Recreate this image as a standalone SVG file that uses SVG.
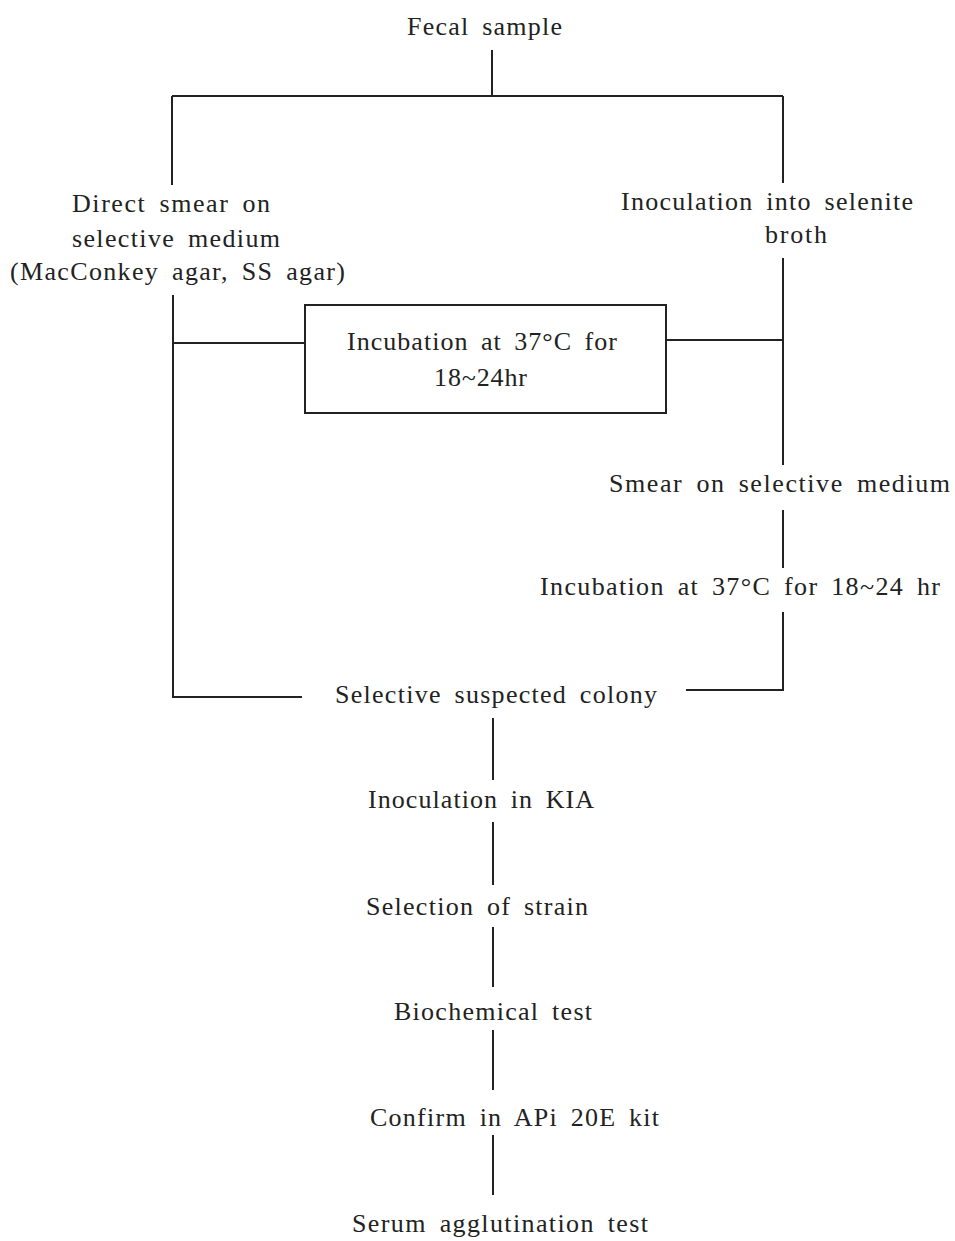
<svg xmlns="http://www.w3.org/2000/svg" width="955" height="1241" viewBox="0 0 955 1241">
<style>
.t{font-family:"Liberation Serif","Times New Roman",serif;font-size:26px;fill:#222;word-spacing:5px}
.l{stroke:#222;stroke-width:2;fill:none}
</style>
<rect width="955" height="1241" fill="#fff"/>
<g id="connectors">
<path class="l" d="M492 50V96M172 96H783M172 96V185M783 96V183"/>
<path class="l" d="M173 295V697H302M173 343H305"/>
<path class="l" d="M666 340H783M783 258V465M783 510V568M783 612V690H686"/>
<path class="l" d="M493 718V780M493 822V885M493 927V987M493 1030V1090M493 1135V1195"/>
</g>
<g id="n-fecal"><text class="t" x="407" y="35" textLength="155" lengthAdjust="spacing">Fecal sample</text></g>
<g id="n-direct">
<text class="t" x="72" y="212" textLength="198" lengthAdjust="spacing">Direct smear on</text>
<text class="t" x="72" y="247" textLength="208" lengthAdjust="spacing">selective medium</text>
<text class="t" x="10" y="280" textLength="335" lengthAdjust="spacing">(MacConkey agar, SS agar)</text>
</g>
<g id="n-inoc-selenite">
<text class="t" x="621" y="210" textLength="292" lengthAdjust="spacing">Inoculation into selenite</text>
<text class="t" x="765" y="243" textLength="62" lengthAdjust="spacing">broth</text>
</g>
<g id="n-incub-box">
<rect x="305" y="305" width="361" height="108" fill="none" stroke="#222" stroke-width="2"/>
<text class="t" x="347" y="350" textLength="270" lengthAdjust="spacing">Incubation at 37°C for</text>
<text class="t" x="434" y="386" textLength="93" lengthAdjust="spacing">18~24hr</text>
</g>
<g id="n-smear"><text class="t" x="609" y="492" textLength="341" lengthAdjust="spacing">Smear on selective medium</text></g>
<g id="n-incub2"><text class="t" x="540" y="595" textLength="400" lengthAdjust="spacing">Incubation at 37°C for 18~24 hr</text></g>
<g id="n-colony"><text class="t" x="335" y="703" textLength="322" lengthAdjust="spacing">Selective suspected colony</text></g>
<g id="n-kia"><text class="t" x="368" y="808" textLength="226" lengthAdjust="spacing">Inoculation in KIA</text></g>
<g id="n-strain"><text class="t" x="366" y="915" textLength="222" lengthAdjust="spacing">Selection of strain</text></g>
<g id="n-biochem"><text class="t" x="394" y="1020" textLength="198" lengthAdjust="spacing">Biochemical test</text></g>
<g id="n-api"><text class="t" x="370" y="1126" textLength="289" lengthAdjust="spacing">Confirm in APi 20E kit</text></g>
<g id="n-serum"><text class="t" x="352" y="1232" textLength="296" lengthAdjust="spacing">Serum agglutination test</text></g>
</svg>
